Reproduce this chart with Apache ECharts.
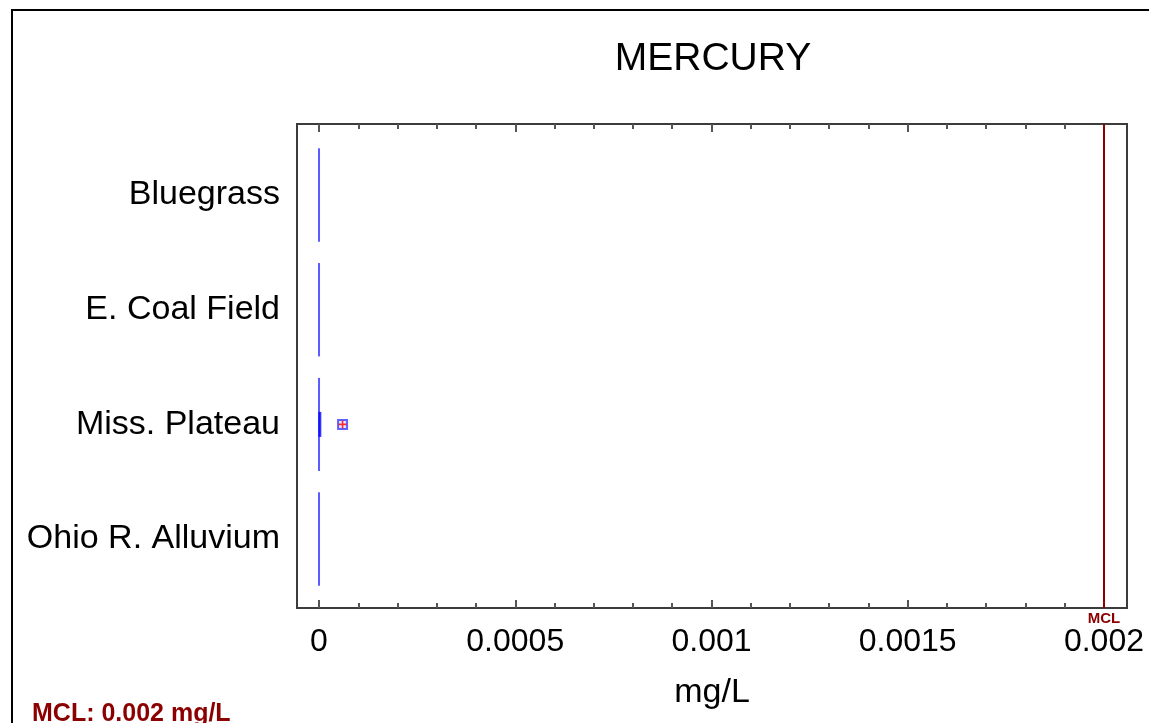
<!DOCTYPE html>
<html>
<head>
<meta charset="utf-8">
<title>MERCURY</title>
<script src="https://cdn.jsdelivr.net/npm/echarts@6/dist/echarts.min.js"></script>
<style>
    html, body { margin: 0; padding: 0; background: #fff; }
    #main { width: 1149px; height: 723px; }
</style>
</head>
<body>
<div id="main"></div>
<script>
    // 数据
    var categories = ['Bluegrass', 'E. Coal Field', 'Miss. Plateau', 'Ohio R. Alluvium'];
    var boxMin = [0, 0, 0, 0];
    var boxQ1 = [0, 0, 0, 0];
    var boxMedian = [0, 0, 0, 0];
    var boxQ3 = [0, 0, 0, 0];
    var boxMax = [0, 0, 0, 0];
    var meanValues = [null, null, 0.000002, null];
    var outlierValues = [null, null, 0.00006, null];
    var mclValue = 0.002;
    var majorTicks = [0, 0.0005, 0.001, 0.0015, 0.002];
    var minorTicks = [0.0001, 0.0002, 0.0003, 0.0004, 0.0006, 0.0007, 0.0008, 0.0009,
        0.0011, 0.0012, 0.0013, 0.0014, 0.0016, 0.0017, 0.0018, 0.0019];

    var xMin = -0.0000561, xMax = 0.0020587;

    var boxData = categories.map(function (c, i) {
        return [i, boxMin[i], boxQ1[i], boxMedian[i], boxQ3[i], boxMax[i]];
    });
    var meanData = [], outlierData = [];
    categories.forEach(function (c, i) {
        if (meanValues[i] !== null) meanData.push([meanValues[i], c]);
        if (outlierValues[i] !== null) outlierData.push([outlierValues[i], c]);
    });

    var tickColor = '#555';
    function tickAxis(pos, values, len, labels) {
        return {
            type: 'value', gridIndex: 0, position: pos, min: xMin, max: xMax,
            axisLine: { show: false },
            splitLine: { show: false },
            axisTick: { show: true, inside: true, length: len, customValues: values,
                lineStyle: { color: tickColor, width: 2 } },
            axisLabel: labels ? {
                show: true, customValues: values, margin: 18,
                fontFamily: 'Liberation Sans', fontSize: 32, color: '#000',
                formatter: function (v) { return String(+v.toFixed(6)); }
            } : { show: false }
        };
    }

    // 箱线图（数值全为0时箱体收缩为一条竖线）
    function renderBox(params, api) {
        var y = api.value(0);
        var half = 93 / 2;
        var pMin = api.coord([api.value(1), y]);
        var pQ1 = api.coord([api.value(2), y]);
        var pMed = api.coord([api.value(3), y]);
        var pQ3 = api.coord([api.value(4), y]);
        var pMax = api.coord([api.value(5), y]);
        var style = { stroke: '#5c5cff', lineWidth: 2, fill: 'none' };
        var cy = pMed[1];
        return {
            type: 'group',
            children: [
                { type: 'polyline', shape: { points: [[pQ1[0], cy - half], [pQ3[0], cy - half], [pQ3[0], cy + half], [pQ1[0], cy + half], [pQ1[0], cy - half]] }, style: style },
                { type: 'line', shape: { x1: pMed[0], y1: cy - half, x2: pMed[0], y2: cy + half }, style: style },
                { type: 'line', shape: { x1: pMin[0], y1: cy, x2: pQ1[0], y2: cy }, style: style },
                { type: 'line', shape: { x1: pQ3[0], y1: cy, x2: pMax[0], y2: cy }, style: style }
            ]
        };
    }

    var myChart = echarts.init(document.getElementById('main'));
    var bottomAxis = tickAxis('bottom', majorTicks, 8, true);
    bottomAxis.name = 'mg/L';
    bottomAxis.nameLocation = 'middle';
    bottomAxis.nameGap = 68;
    bottomAxis.nameTextStyle = { fontFamily: 'Liberation Sans', fontSize: 34, color: '#000' };

    var option = {
        animation: false,
        title: [{
            text: 'MERCURY', left: 708, top: 35, textAlign: 'center',
            textStyle: { fontFamily: 'Liberation Sans', fontSize: 39, fontWeight: 'normal', color: '#000' }
        }, {
            text: 'MCL: 0.002 mg/L', left: 27, top: 697,
            textStyle: { fontFamily: 'Liberation Sans', fontSize: 25, fontWeight: 'bold', color: '#8b0000' }
        }],
        graphic: [{
            type: 'rect', silent: true,
            shape: { x: 12, y: 10, width: 1300, height: 900 },
            style: { fill: 'none', stroke: '#000', lineWidth: 2 }
        }],
        grid: [
            { left: 297, top: 124, width: 830, height: 484, show: true, borderColor: '#3c3c3c', borderWidth: 2 },
            { left: 297, top: 137.7, width: 830, height: 458.7 }
        ],
        xAxis: [
            bottomAxis,
            tickAxis('bottom', minorTicks, 5, false),
            tickAxis('top', majorTicks, 8, false),
            tickAxis('top', minorTicks, 5, false),
            { type: 'value', gridIndex: 1, min: xMin, max: xMax, show: false }
        ],
        yAxis: [
            { type: 'value', gridIndex: 0, min: 0, max: 1, show: false },
            {
                type: 'category', gridIndex: 1, inverse: true, data: categories,
                axisLine: { show: false }, axisTick: { show: false }, splitLine: { show: false },
                axisLabel: { margin: 17, fontFamily: 'Liberation Sans', fontSize: 34, color: '#000' }
            }
        ],
        series: [
            {
                // MCL 线
                type: 'line', xAxisIndex: 0, yAxisIndex: 0, data: [],
                markLine: {
                    silent: true, symbol: 'none',
                    lineStyle: { color: '#8b0000', width: 2, type: 'solid' },
                    label: {
                        position: 'start', formatter: 'MCL', distance: 3,
                        fontFamily: 'Liberation Sans', fontSize: 15, fontWeight: 'bold', color: '#8b0000'
                    },
                    data: [[{ coord: [mclValue, 0] }, { coord: [mclValue, 1] }]]
                }
            },
            {
                name: 'box', type: 'custom', xAxisIndex: 4, yAxisIndex: 1,
                renderItem: renderBox,
                encode: { x: [1, 2, 3, 4, 5], y: 0 },
                data: boxData
            },
            {
                name: 'mean', type: 'scatter', xAxisIndex: 4, yAxisIndex: 1,
                symbol: 'rect', symbolSize: [3, 25],
                itemStyle: { color: '#0000ff' },
                data: meanData, z: 3
            },
            {
                name: 'outlier', type: 'scatter', xAxisIndex: 4, yAxisIndex: 1,
                symbol: 'rect', symbolSize: 9,
                itemStyle: { color: '#dcdcff', borderColor: '#3c3cff', borderWidth: 2 },
                data: outlierData
            },
            {
                name: 'outlier+', type: 'scatter', xAxisIndex: 4, yAxisIndex: 1,
                symbol: 'path://M4,0H6V4H10V6H6V10H4V6H0V4H4Z', symbolSize: 8,
                itemStyle: { color: '#ff0000' },
                data: outlierData, z: 3
            }
        ]
    };
    myChart.setOption(option);
</script>
</body>
</html>
